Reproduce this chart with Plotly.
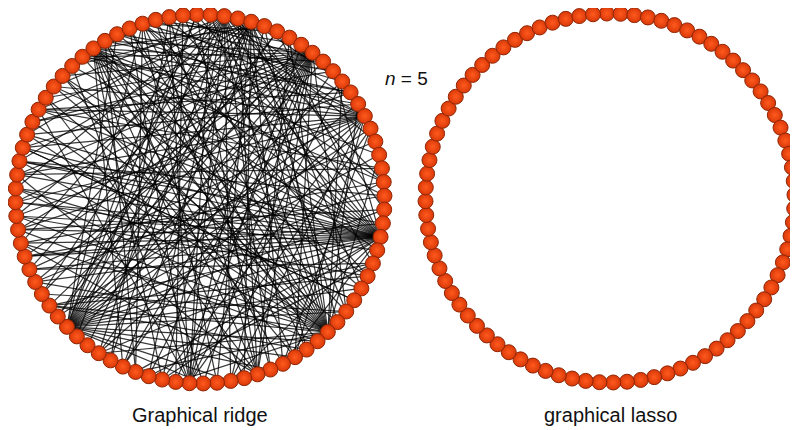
import math
import plotly.graph_objects as go

# ---- data ----
n_nodes = 84
panel_titles = ["Graphical ridge", "graphical lasso"]
sample_label = "<i>n</i> = 5"

# edges of the graphical-ridge network (node indices, clockwise from top)
ridge_edges = [
    # hub at right (24)
    (24, 50), (24, 53), (24, 55), (24, 57), (24, 58), (24, 59), (24, 60), (24, 61),
    (24, 62), (24, 63), (24, 64), (24, 65), (24, 66), (24, 67), (24, 68), (24, 70),
    (24, 72), (24, 74), (24, 76), (24, 78), (24, 80), (24, 82), (24, 0), (24, 3),
    (24, 6), (24, 45), (24, 47), (24, 40), (24, 36), (24, 11),
    # hub lower right (32)
    (32, 60), (32, 62), (32, 64), (32, 66), (32, 68), (32, 69), (32, 71), (32, 73),
    (32, 75), (32, 77), (32, 79), (32, 81), (32, 83), (32, 1), (32, 3), (32, 5),
    (32, 7), (32, 12), (32, 14), (32, 18), (32, 55), (32, 57), (32, 50), (32, 47),
    (32, 44),
    # hub lower left (53)
    (53, 0), (53, 2), (53, 4), (53, 6), (53, 8), (53, 10), (53, 12), (53, 14),
    (53, 16), (53, 18), (53, 20), (53, 22), (53, 26), (53, 28), (53, 30), (53, 33),
    (53, 35), (53, 37), (53, 40), (53, 42), (53, 78), (53, 80), (53, 83),
    # hub upper right (9)
    (9, 30), (9, 35), (9, 38), (9, 40), (9, 42), (9, 44), (9, 46), (9, 48),
    (9, 50), (9, 52), (9, 55), (9, 57), (9, 59), (9, 61), (9, 63), (9, 65),
    (9, 67), (9, 69), (9, 71), (9, 73), (9, 75), (9, 77),
    # hubs at top (2, 4)
    (2, 20), (2, 26), (2, 30), (2, 34), (2, 37), (2, 40), (2, 43), (2, 46),
    (2, 49), (2, 56), (2, 60), (2, 64), (2, 68), (2, 72), (2, 17), (2, 14),
    (4, 22), (4, 28), (4, 31), (4, 36), (4, 39), (4, 41), (4, 45), (4, 48),
    (4, 51), (4, 54), (4, 58), (4, 62), (4, 66), (4, 70), (4, 74), (4, 12),
    # hub right-top (15)
    (15, 45), (15, 50), (15, 54), (15, 58), (15, 61), (15, 63), (15, 65), (15, 67),
    (15, 70), (15, 72), (15, 75), (15, 78), (15, 81), (15, 83), (15, 40), (15, 35),
    # hub top-left (76, 80)
    (76, 5), (76, 10), (76, 13), (76, 18), (76, 21), (76, 25), (76, 28), (76, 30),
    (76, 33), (76, 36), (76, 39), (76, 42), (76, 45), (76, 48),
    (80, 6), (80, 12), (80, 20), (80, 27), (80, 34), (80, 41), (80, 47),
    # hubs at bottom (43, 38)
    (43, 5), (43, 8), (43, 12), (43, 16), (43, 70), (43, 74), (43, 79), (43, 82), (43, 1),
    (38, 0), (38, 3), (38, 7), (38, 60), (38, 65), (38, 71), (38, 77), (38, 81),
    # left side chords
    (60, 20), (61, 22), (62, 27), (63, 25), (64, 28), (65, 19), (66, 23), (67, 29),
    (59, 21), (58, 26), (57, 17), (68, 14), (69, 11), (70, 13), (56, 30), (55, 34),
    # other chords
    (73, 27), (75, 20), (79, 35), (82, 37), (83, 44), (1, 50), (7, 56), (11, 48),
    (13, 62), (19, 70), (21, 66), (23, 59), (27, 55), (29, 67), (31, 72), (33, 61),
    (35, 73), (26, 46), (16, 36), (47, 77), (49, 82), (52, 0), (54, 6),
    (79, 9), (78, 11), (81, 8), (77, 13), (82, 10), (75, 14),
]
lasso_edges = []

# ---- layout parameters ----
OFF = 8  # page body margin offset
W, H = 798, 430
centers = [(200, 199), (610, 198)]
R = 184.5
start_deg = 91.0

def node_xy(k, cx, cy):
    a = math.radians(start_deg - k * 360.0 / n_nodes)
    return cx + R * math.cos(a), cy - R * math.sin(a)

fig = go.Figure()

for (cx, cy), edges in zip(centers, [ridge_edges, lasso_edges]):
    ex, ey = [], []
    for i, j in edges:
        x0, y0 = node_xy(i, cx, cy)
        x1, y1 = node_xy(j, cx, cy)
        ex += [x0, x1, None]
        ey += [y0, y1, None]
    if ex:
        fig.add_trace(go.Scatter(x=ex, y=ey, mode="lines",
                                 line=dict(color="rgba(0,0,0,0.78)", width=1.2),
                                 hoverinfo="skip", showlegend=False))
    nx, ny = zip(*[node_xy(k, cx, cy) for k in range(n_nodes)])
    fig.add_trace(go.Scatter(
        x=nx, y=ny, mode="markers", showlegend=False, hoverinfo="skip",
        marker=dict(size=15, color="#d93808",
                    gradient=dict(type="radial", color="#ff5a1e"),
                    line=dict(color="#8e2606", width=1))))

for (cx, cy), title in zip(centers, panel_titles):
    fig.add_annotation(x=cx, y=415, text=title, showarrow=False,
                       font=dict(family="Liberation Sans, Arial", size=20, color="#111"),
                       xanchor="center", yanchor="middle")

fig.add_annotation(x=406, y=78, text=sample_label, showarrow=False,
                   font=dict(family="Liberation Sans, Arial", size=19, color="#111"),
                   xanchor="center", yanchor="middle")

fig.update_layout(
    width=W - OFF, height=H - OFF, margin=dict(l=0, r=0, t=0, b=0),
    paper_bgcolor="white", plot_bgcolor="white",
    xaxis=dict(range=[OFF, W], visible=False, fixedrange=True),
    yaxis=dict(range=[H, OFF], visible=False, fixedrange=True),
)

fig.write_html("out.html")
